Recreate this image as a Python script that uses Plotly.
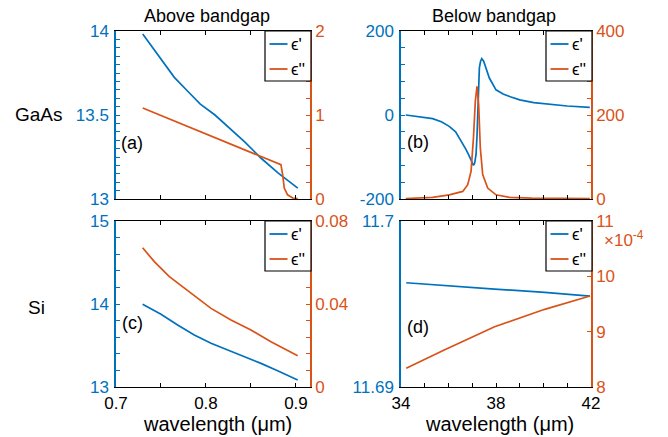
import plotly.graph_objects as go

# ---------------- data ----------------
# (a) GaAs above bandgap
a_wl_re = [0.7297, 0.748, 0.7648, 0.780, 0.7937, 0.810, 0.824, 0.843, 0.861, 0.880, 0.902]
a_re = [13.982, 13.85, 13.724, 13.64, 13.565, 13.50, 13.433, 13.34, 13.244, 13.155, 13.065]
a_wl_im = [0.7297, 0.8833, 0.8852, 0.8870, 0.8907, 0.8963, 0.902]
a_im = [1.083, 0.408, 0.289, 0.131, 0.05, 0.012, 0.004]

# (b) GaAs below bandgap
b_wl_re = [34.2, 34.8, 35.33, 35.7, 36.03, 36.3, 36.46, 36.6, 36.74, 36.85, 36.95, 37.05,
           37.1, 37.16, 37.2, 37.23, 37.27, 37.3, 37.35, 37.4, 37.48, 37.56, 37.72, 38.0,
           38.3, 38.6, 39.0, 39.59, 40.3, 41.0, 41.95]
b_re = [0, -4, -8.8, -16, -27, -40, -54.8, -68, -82.5, -95, -110, -120,
        -115, -94, -50, 8.8, 70, 112, 128, 134, 128, 116, 88, 60,
        50, 43.6, 36, 29.3, 24.5, 21.4, 18.3]
b_wl_im = [34.2, 35.33, 36.03, 36.6, 36.81, 36.95, 37.05, 37.13, 37.2, 37.27, 37.34,
           37.44, 37.65, 38.0, 38.57, 39.5, 41.95]
b_im = [1, 4, 10, 18, 34, 66, 145, 233, 268, 225, 121, 58, 26, 10, 4, 2, 1]

# (c) Si above bandgap
c_wl_re = [0.7296, 0.75, 0.7685, 0.787, 0.8056, 0.8241, 0.8426, 0.8611, 0.8796, 0.9019]
c_re = [13.996, 13.876, 13.747, 13.627, 13.526, 13.446, 13.365, 13.285, 13.196, 13.084]
c_wl_im = [0.7296, 0.7426, 0.7593, 0.7833, 0.8056, 0.8278, 0.85, 0.8722, 0.9019]
c_im = [0.0671, 0.0604, 0.0532, 0.0451, 0.0379, 0.0323, 0.0275, 0.0218, 0.0151]

# (d) Si below bandgap (eps'' in units of 1e-4)
d_wl = [34.22, 35.82, 37.94, 40.05, 41.96]
d_re = [11.69628, 11.6961, 11.6959, 11.6957, 11.69548]
d_im_e4 = [8.338, 8.669, 9.09, 9.404, 9.645]

# tick labels
x_near_ticks = [0.7, 0.8, 0.9]
x_near_labels = ["0.7", "0.8", "0.9"]
x_far_ticks = [34, 38, 42]
x_far_labels = ["34", "38", "42"]
ya_t, ya_l = [13, 13.5, 14], ["13", "13.5", "14"]
ya2_t, ya2_l = [0, 1, 2], ["0", "1", "2"]
yb_t, yb_l = [-200, 0, 200], ["-200", "0", "200"]
yb2_t, yb2_l = [0, 200, 400], ["0", "200", "400"]
yc_t, yc_l = [13, 14, 15], ["13", "14", "15"]
yc2_t, yc2_l = [0, 0.04, 0.08], ["0", "0.04", "0.08"]
yd_t, yd_l = [11.69, 11.7], ["11.69", "11.7"]
yd2_t, yd2_l = [8, 9, 10, 11], ["8", "9", "10", "11"]

BLUE = "#0072BD"
ORANGE = "#D95319"
W, H = 668, 437
FONT = "Liberation Sans, Arial, Helvetica, sans-serif"

# panel pixel boxes (left, right, top, bottom)
P = {"a": (116, 310, 31, 199), "b": (401, 591, 31, 199),
     "c": (116, 310, 221, 387), "d": (401, 591, 221, 387)}


def fx(px):
    return px / W


def fy(py):
    return 1 - py / H


def dom(p):
    l, r, t, b = P[p]
    return [fx(l), fx(r)], [fy(b), fy(t)]


fig = go.Figure()

panels = [
    ("a", "x", "y", "y5", a_wl_re, a_re, a_wl_im, a_im),
    ("b", "x2", "y2", "y6", b_wl_re, b_re, b_wl_im, b_im),
    ("c", "x3", "y3", "y7", c_wl_re, c_re, c_wl_im, c_im),
    ("d", "x4", "y4", "y8", d_wl, d_re, d_wl, d_im_e4),
]
for name, xa, ya, ya2, xr, yr, xi, yi in panels:
    fig.add_trace(go.Scatter(x=xr, y=yr, xaxis=xa, yaxis=ya, mode="lines",
                             line=dict(color=BLUE, width=1.7), name="ϵ'", showlegend=False))
    fig.add_trace(go.Scatter(x=xi, y=yi, xaxis=xa, yaxis=ya2, mode="lines",
                             line=dict(color=ORANGE, width=1.7), name="ϵ''", showlegend=False))


def xax(rng, tv, tt, showlab, anchor, domain, mdt, m0):
    return dict(showline=True, linecolor="black", linewidth=1.2, mirror="ticks",
                ticks="inside", ticklen=4, tickcolor="black", tickwidth=1, automargin=False,
                showgrid=False, zeroline=False,
                tickfont=dict(size=17, color="black", family=FONT), ticklabelstandoff=0,
                tickmode="array", tickvals=tv, ticktext=tt, showticklabels=showlab,
                range=rng, anchor=anchor, domain=domain,
                minor=dict(ticks="inside", ticklen=4, tickcolor="black", tickwidth=1,
                           dtick=mdt, tick0=m0, showgrid=False))


def yax(color, side, ticks, labels, rng, xa, mdt, m0, overlay=None, standoff=2):
    d = dict(showline=True, linecolor=color, linewidth=1.5, ticks="inside", ticklen=4,
             tickcolor=color, tickwidth=1, showgrid=False, zeroline=False, automargin=False,
             tickfont=dict(size=17, color=color, family=FONT), side=side,
             tickmode="array", tickvals=ticks, ticktext=labels, range=rng, anchor=xa,
             ticklabelstandoff=standoff)
    if mdt:
        d["minor"] = dict(ticks="inside", ticklen=4, tickcolor=color, tickwidth=1,
                          dtick=mdt, tick0=m0, showgrid=False)
    if overlay:
        d["overlaying"] = overlay
    return d


layout = dict(width=W, height=H, autosize=False, margin=dict(l=0, r=0, t=0, b=0, pad=0),
              paper_bgcolor="white", plot_bgcolor="white", showlegend=False,
              font=dict(family=FONT, color="black"))

layout["xaxis"] = xax([0.7, 0.9156], x_near_ticks, x_near_labels, False, "y", dom("a")[0], 0.05, 0.7)
layout["xaxis2"] = xax([34, 42], x_far_ticks, x_far_labels, False, "y2", dom("b")[0], 1, 34)
layout["xaxis3"] = xax([0.7, 0.9156], x_near_ticks, x_near_labels, True, "y3", dom("c")[0], 0.05, 0.7)
layout["xaxis4"] = xax([34, 42], x_far_ticks, x_far_labels, True, "y4", dom("d")[0], 1, 34)

layout["yaxis"] = dict(yax(BLUE, "left", ya_t, ya_l, [13, 14], "x", 0.05, 13), domain=dom("a")[1])
layout["yaxis2"] = dict(yax(BLUE, "left", yb_t, yb_l, [-200, 200], "x2", 40, -200), domain=dom("b")[1])
layout["yaxis3"] = dict(yax(BLUE, "left", yc_t, yc_l, [13, 15], "x3", 0.2, 13), domain=dom("c")[1])
layout["yaxis4"] = dict(yax(BLUE, "left", yd_t, yd_l, [11.69, 11.7], "x4", None, None), domain=dom("d")[1])
layout["yaxis5"] = yax(ORANGE, "right", ya2_t, ya2_l, [0, 2], "x", 0.2, 0, "y", 0)
layout["yaxis6"] = yax(ORANGE, "right", yb2_t, yb2_l, [0, 400], "x2", 40, 0, "y2", 0)
layout["yaxis7"] = yax(ORANGE, "right", yc2_t, yc2_l, [0, 0.08], "x3", 0.008, 0, "y3", 0)
layout["yaxis8"] = yax(ORANGE, "right", yd2_t, yd2_l, [8, 11], "x4", None, None, "y4", 0)

fig.update_layout(**layout)

# ---------------- annotations ----------------
ann = []


def text(t, px, py, size, color="black", xanchor="center"):
    ann.append(dict(text=t, x=fx(px), y=fy(py), xref="paper", yref="paper", showarrow=False,
                    xanchor=xanchor, yanchor="middle", font=dict(size=size, color=color, family=FONT)))


text("Above bandgap", 207, 16, 18)
text("Below bandgap", 493.5, 16, 18)
text("GaAs", 38.5, 115, 19)
text("Si", 36, 307, 19)
text("wavelength (μm)", 217.5, 424, 20)
text("wavelength (μm)", 499, 424, 20)
text("(a)", 119, 143, 18, xanchor="left")
text("(b)", 405, 142, 18, xanchor="left")
text("(c)", 120, 323, 18, xanchor="left")
text("(d)", 405, 327, 18, xanchor="left")
text("×10<sup>-4</sup>", 602, 239, 17, color=ORANGE, xanchor="left")

# ---------------- per-panel legends ----------------
shapes = []
for name in "abcd":
    l, r, t, b = P[name]
    x1 = r + 1
    x0 = x1 - 46
    y0 = t
    y1 = t + 50
    shapes.append(dict(type="rect", xref="paper", yref="paper", x0=fx(x0), x1=fx(x1),
                       y0=fy(y1), y1=fy(y0), line=dict(color="black", width=1.2),
                       fillcolor="white", layer="above"))
    for k, (col, lab) in enumerate([(BLUE, "ϵ'"), (ORANGE, "ϵ''")]):
        yy = t + 13 + 25 * k
        shapes.append(dict(type="line", xref="paper", yref="paper", x0=fx(x0 + 4.5), x1=fx(x0 + 22.5),
                           y0=fy(yy), y1=fy(yy), line=dict(color=col, width=1.8), layer="above"))
        text(lab, x0 + 24, yy, 17, xanchor="left")

fig.update_layout(annotations=ann, shapes=shapes)
fig.write_html("out.html", config={"displayModeBar": False},
               post_script="document.body.style.margin='0';document.body.style.padding='0';")
